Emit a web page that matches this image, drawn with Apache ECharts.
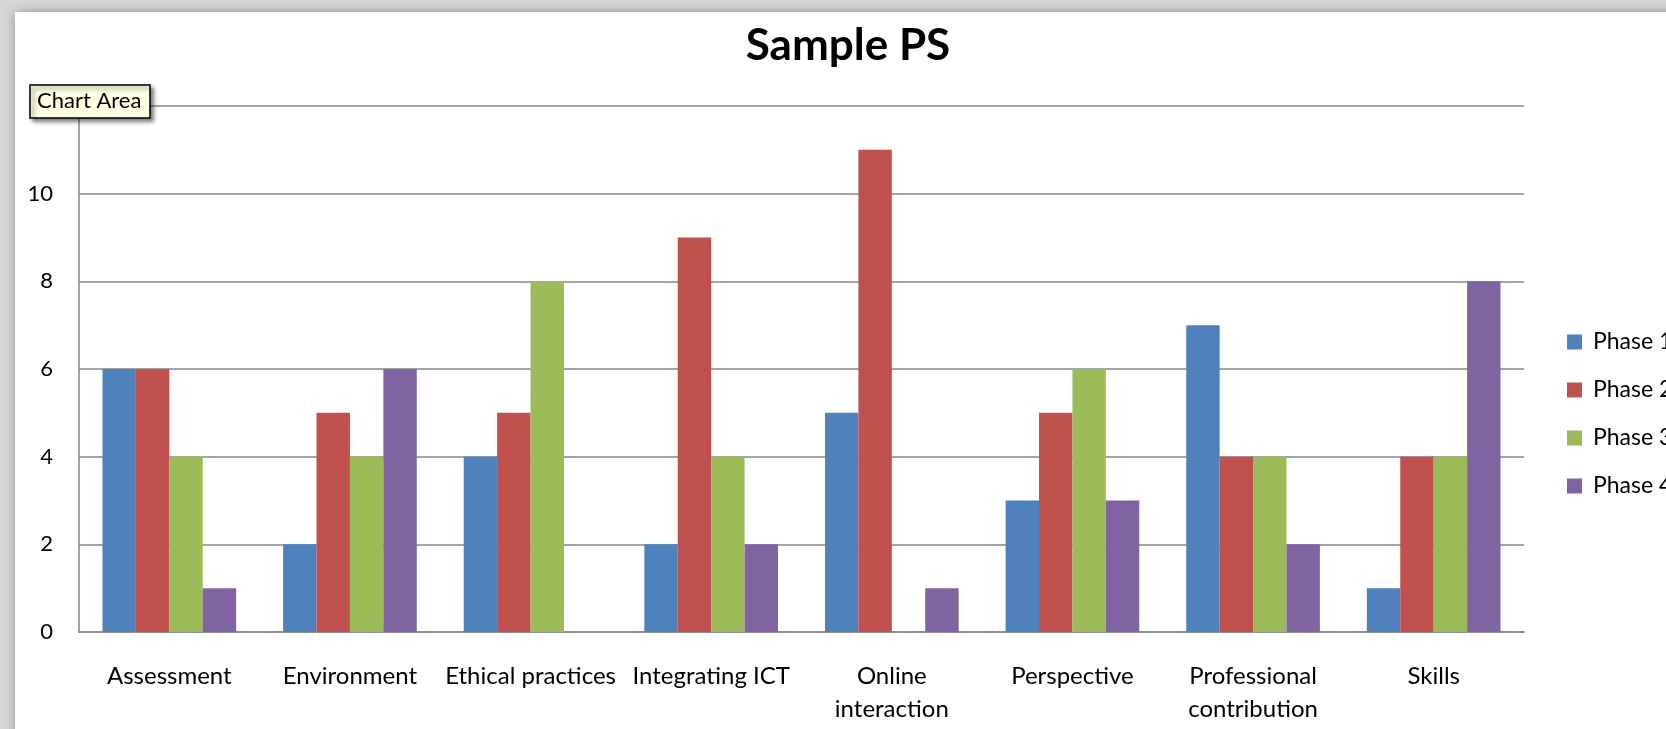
<!DOCTYPE html>
<html>
<head>
<meta charset="utf-8">
<script src="https://cdn.jsdelivr.net/npm/echarts@6/dist/echarts.min.js"></script>
<style>
html,body{margin:0;padding:0;background:#d6d6d6;}
#chart{width:1666px;height:729px;}
</style>
</head>
<body>
<div id="chart"></div>
<script>
const categories = ['Assessment','Environment','Ethical practices','Integrating ICT','Online interaction','Perspective','Professional contribution','Skills'];
const categoryLabels = ['Assessment','Environment','Ethical practices','Integrating ICT','Online\ninteraction','Perspective','Professional\ncontribution','Skills'];
const seriesNames = ['Phase 1','Phase 2','Phase 3','Phase 4'];
const phase1 = [6,2,4,2,5,3,7,1];
const phase2 = [6,5,5,9,11,5,4,4];
const phase3 = [4,4,8,4,0,6,4,4];
const phase4 = [1,6,0,2,1,3,2,8];
const colors = ['#4F81BD','#C0504D','#9BBB59','#8064A2'];

const font = 'Lato, "Open Sans", sans-serif';
const chart = echarts.init(document.getElementById('chart'));
const data = [phase1, phase2, phase3, phase4];
chart.setOption({
  backgroundColor: '#d6d6d6',
  animation: false,
  color: colors,
  title: {
    text: 'Sample PS',
    left: 843, textAlign: 'center', top: 19,
    textStyle: {fontFamily: font, fontWeight: 'bold', fontSize: 44, color: '#000'}
  },
  legend: {
    orient: 'vertical', left: 1567, top: 330, padding: 0,
    icon: 'rect', itemWidth: 15, itemHeight: 15, itemGap: 24,
    textStyle: {fontFamily: font, fontSize: 23, color: '#000', lineHeight: 24, padding: [0,0,0,6]},
    data: seriesNames
  },
  grid: {left: 79, top: 106, width: 1445, height: 526},
  xAxis: {
    type: 'category', data: categories,
    axisLine: {lineStyle: {color: '#868686', width: 1.5}},
    axisTick: {show: false},
    axisLabel: {
      interval: 0, margin: 28, color: '#000', fontFamily: font, fontSize: 24, lineHeight: 33,
      formatter: (v, i) => categoryLabels[i]
    }
  },
  yAxis: {
    type: 'value', min: 0, max: 12, interval: 2,
    axisLine: {show: true, lineStyle: {color: '#868686', width: 1.5}},
    axisTick: {show: false},
    splitLine: {lineStyle: {color: '#868686', width: 1.5}},
    axisLabel: {margin: 26, color: '#000', fontFamily: font, fontSize: 22}
  },
  series: seriesNames.map((n, k) => ({
    name: n, type: 'bar', data: data[k],
    barGap: '0%', barCategoryGap: '26%'
  })),
  graphic: [
    {type: 'rect', z: -10, shape: {x: 15, y: 12, width: 1700, height: 800},
     style: {fill: '#fff', shadowBlur: 12, shadowColor: 'rgba(0,0,0,0.45)', shadowOffsetX: 2, shadowOffsetY: 2}},
    {type: 'rect', z: 100, zlevel: 1, shape: {x: 30, y: 85, width: 120, height: 33},
     style: {fill: '#ffffe1', stroke: '#000', lineWidth: 1.5, shadowBlur: 4, shadowColor: 'rgba(0,0,0,0.5)', shadowOffsetX: 3, shadowOffsetY: 3}},
    {type: 'text', z: 101, zlevel: 1, x: 37, y: 90, style: {text: 'Chart Area', fontFamily: font, fontSize: 22, fill: '#000'}}
  ]
});
</script>
</body>
</html>
